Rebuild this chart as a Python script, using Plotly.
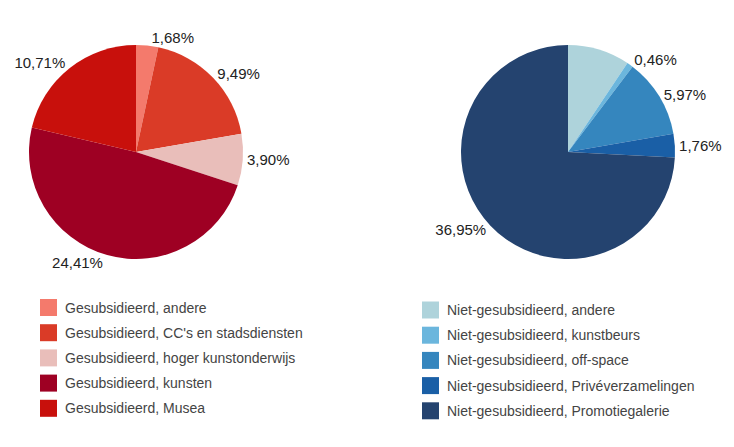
import plotly.graph_objects as go

W, H = 734, 447
PAGE_OFFSET = 8  # the page body margin pushes the figure 8px right/down

# data: share of total (%) per category
sub_labels = ["Gesubsidieerd, andere", "Gesubsidieerd, CC's en stadsdiensten",
              "Gesubsidieerd, hoger kunstonderwijs", "Gesubsidieerd, kunsten",
              "Gesubsidieerd, Musea"]
sub_values = [1.68, 9.49, 3.90, 24.41, 10.71]
sub_colors = ["#F47A6C", "#DA3B27", "#E9BEBA", "#9E0023", "#C8100C"]

niet_labels = ["Niet-gesubsidieerd, andere", "Niet-gesubsidieerd, kunstbeurs",
               "Niet-gesubsidieerd, off-space", "Niet-gesubsidieerd, Privéverzamelingen",
               "Niet-gesubsidieerd, Promotiegalerie"]
niet_values = [4.67, 0.46, 5.97, 1.76, 36.95]
niet_colors = ["#AED3DB", "#6BB6DD", "#3586BE", "#1A5FA6", "#24436F"]
niet_show = [False, True, True, True, True]  # andere has no label in the original


def px_x(x):
    return (x - PAGE_OFFSET) / W


def px_y(y):
    return 1 - (y - PAGE_OFFSET) / H


fig = go.Figure()

# ------------------------------------------------------------
#  Pies
# ------------------------------------------------------------
fig.add_trace(go.Pie(
    labels=sub_labels, values=sub_values, sort=False, direction="clockwise",
    rotation=0, marker=dict(colors=sub_colors, line=dict(width=0)),
    texttemplate="%{value:.2f}%", textposition="outside",
    textfont=dict(size=15, color="#222"),
    domain=dict(x=[px_x(29), px_x(243)], y=[px_y(259), px_y(45)]),
    showlegend=False, hoverinfo="label+value",
))
fig.add_trace(go.Pie(
    labels=niet_labels, values=niet_values, sort=False, direction="clockwise",
    rotation=0, marker=dict(colors=niet_colors, line=dict(width=0)),
    texttemplate=["%{value:.2f}%" if s else "" for s in niet_show],
    textposition="outside",
    textfont=dict(size=15, color="#222"),
    domain=dict(x=[px_x(461), px_x(675)], y=[px_y(259), px_y(45)]),
    showlegend=False, hoverinfo="label+value",
))

# ------------------------------------------------------------
#  Legends (drawn by hand to match square size and row spacing)
# ------------------------------------------------------------
shapes, annots = [], []
for labels, colors, x0, y0 in [(sub_labels, sub_colors, 40, 307.5),
                               (niet_labels, niet_colors, 422, 310)]:
    for i, (lab, col) in enumerate(zip(labels, colors)):
        yc = y0 + i * 25.2
        shapes.append(dict(type="rect", xref="paper", yref="paper",
                           x0=px_x(x0), x1=px_x(x0 + 17),
                           y0=px_y(yc + 8.5), y1=px_y(yc - 8.5),
                           fillcolor=col, line=dict(width=0)))
        annots.append(dict(text=lab, xref="paper", yref="paper",
                           x=px_x(x0 + 23), y=px_y(yc), xanchor="left",
                           yanchor="middle", showarrow=False,
                           font=dict(size=14, color="#444")))

fig.update_layout(
    width=W, height=H, margin=dict(l=0, r=0, t=0, b=0),
    paper_bgcolor="white", plot_bgcolor="white",
    separators=",.",
    font=dict(family="Liberation Sans, Arial, sans-serif"),
    shapes=shapes, annotations=annots,
)

fig.write_html("out.html")
